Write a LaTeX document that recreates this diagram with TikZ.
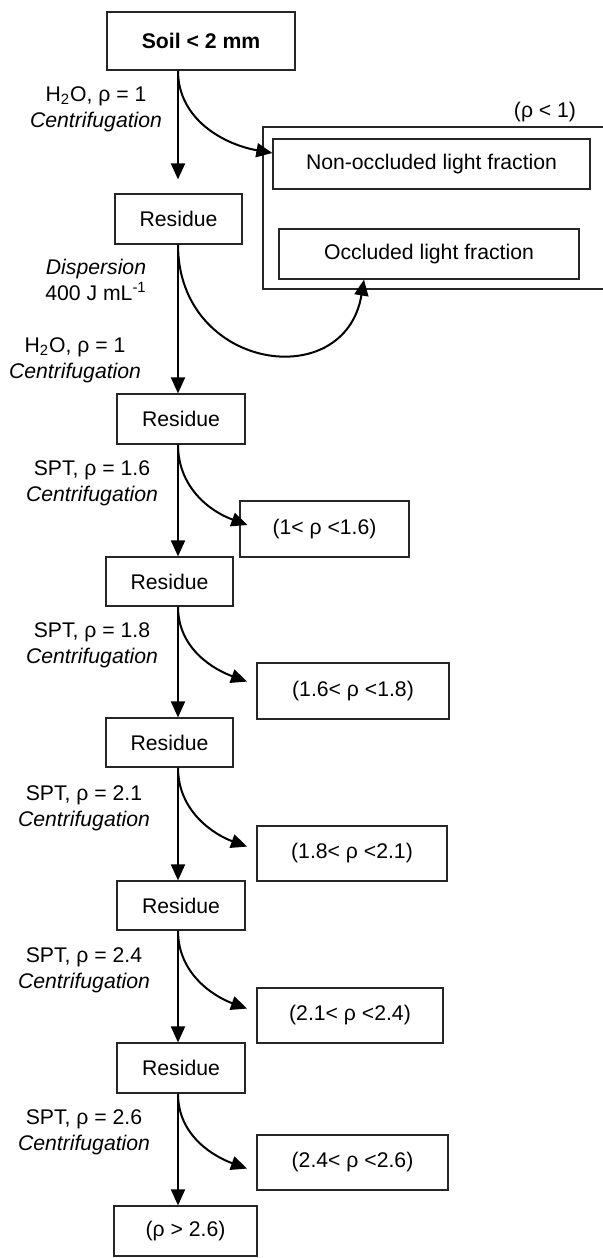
\documentclass[tikz,border=0pt]{standalone}
\usepackage{fontspec}
\setmainfont{Liberation Sans}
\usetikzlibrary{arrows.meta}

\begin{document}
\begin{tikzpicture}[x=0.5pt,y=0.5pt,
	every node/.style={font=\fontsize{10.6}{13}\selectfont},
	box/.style={draw=black!85,line width=0.6pt,inner sep=0pt,minimum height=25pt},
	flow/.style={line width=1pt,-{Triangle[length=8pt,width=7pt]}},
	lab/.style={align=center,inner sep=0pt}]
	\useasboundingbox (0,0) rectangle (602,-1258);
	\coordinate (spine) at (178,0);
	% main column
	\node[box,minimum width=94pt,minimum height=29pt,font=\fontsize{10.6}{13}\selectfont\bfseries] (soil) at (201,-41) {Soil < 2 mm};
	\node[box,minimum width=63.5pt] (res1) at (178.5,-219) {Residue};
	\node[box,minimum width=64pt] (res2) at (181,-419) {Residue};
	\node[box,minimum width=63.5pt,minimum height=24.5pt] (res3) at (169.5,-581.5) {Residue};
	\node[box,minimum width=63.5pt,minimum height=24.5pt] (res4) at (169.5,-742.5) {Residue};
	\node[box,minimum width=64pt,minimum height=24.5pt] (res5) at (181,-905.5) {Residue};
	\node[box,minimum width=64pt] (res6) at (181,-1068) {Residue};
	\node[box,minimum width=71.5pt] (heavy) at (185.5,-1231) {(ρ > 2.6)};
	% light fractions
	\draw[draw=black!85,line width=0.6pt] (263,-127) rectangle (615,-289);
	\node (rholow) at (545,-112) {(ρ < 1)};
	\node[box,minimum width=158.5pt] (nonocc) at (431.5,-164) {Non-occluded light fraction};
	\node[box,minimum width=150pt] (occ) at (429,-254) {Occluded light fraction};
	% density fractions
	\node[box,minimum width=84.5pt,minimum height=28pt] (f16) at (324.5,-529) {(1< ρ <1.6)};
	\node[box,minimum width=96pt,minimum height=28pt] (f18) at (353,-691) {(1.6< ρ <1.8)};
	\node[box,minimum width=95pt,minimum height=27.5pt] (f21) at (352,-853.5) {(1.8< ρ <2.1)};
	\node[box,minimum width=93pt,minimum height=27.5pt] (f24) at (350,-1015.5) {(2.1< ρ <2.4)};
	\node[box,minimum width=95.5pt,minimum height=27.5pt] (f26) at (352.5,-1162.5) {(2.4< ρ <2.6)};
	% step labels
	\node[lab] (l1) at (96,-109) {H\textsubscript{2}O, ρ = 1\\\textit{Centrifugation}};
	\node[lab] (ldisp) at (96,-280) {\textit{Dispersion}\\400 J mL\textsuperscript{-1}};
	\node[lab] (l2) at (75,-360) {H\textsubscript{2}O, ρ = 1\\\textit{Centrifugation}};
	\node[lab] (l16) at (92,-483) {SPT, ρ = 1.6\\\textit{Centrifugation}};
	\node[lab] (l18) at (92,-645.5) {SPT, ρ = 1.8\\\textit{Centrifugation}};
	\node[lab] (l21) at (84,-808) {SPT, ρ = 2.1\\\textit{Centrifugation}};
	\node[lab] (l24) at (84,-970.5) {SPT, ρ = 2.4\\\textit{Centrifugation}};
	\node[lab] (l26) at (84,-1132.5) {SPT, ρ = 2.6\\\textit{Centrifugation}};
	% arrows down
	\draw[flow,shorten >=7pt] (soil.south -| spine) -- (res1.north -| spine);
	\draw[flow] (res1.south -| spine) -- (res2.north -| spine);
	\draw[flow] (res2.south -| spine) -- (res3.north -| spine);
	\draw[flow] (res3.south -| spine) -- (res4.north -| spine);
	\draw[flow] (res4.south -| spine) -- (res5.north -| spine);
	\draw[flow] (res5.south -| spine) -- (res6.north -| spine);
	\draw[flow] (res6.south -| spine) -- (heavy.north -| spine);
	% arrows aside
	\draw[flow] (soil.south -| spine) to[out=-90,in=170] ([yshift=5.5pt]nonocc.west);
	\draw[flow] (res1.south -| spine) .. controls +(0,-126) and +(-19,-115) .. ([xshift=-32.5pt]occ.south);
	\draw[flow] (res2.south -| spine) to[out=-90,in=160] ([xshift=4pt,yshift=2pt]f16.west);
	\draw[flow,shorten >=5pt] (res3.south -| spine) to[out=-90,in=160] ([yshift=3pt]f18.west);
	\draw[flow,shorten >=5pt] (res4.south -| spine) to[out=-90,in=160] ([yshift=1.75pt]f21.west);
	\draw[flow,shorten >=5pt] (res5.south -| spine) to[out=-90,in=160] ([yshift=1.75pt]f24.west);
	\draw[flow,shorten >=5pt] (res6.south -| spine) to[out=-90,in=160] ([yshift=-4.75pt]f26.west);
\end{tikzpicture}
\end{document}
